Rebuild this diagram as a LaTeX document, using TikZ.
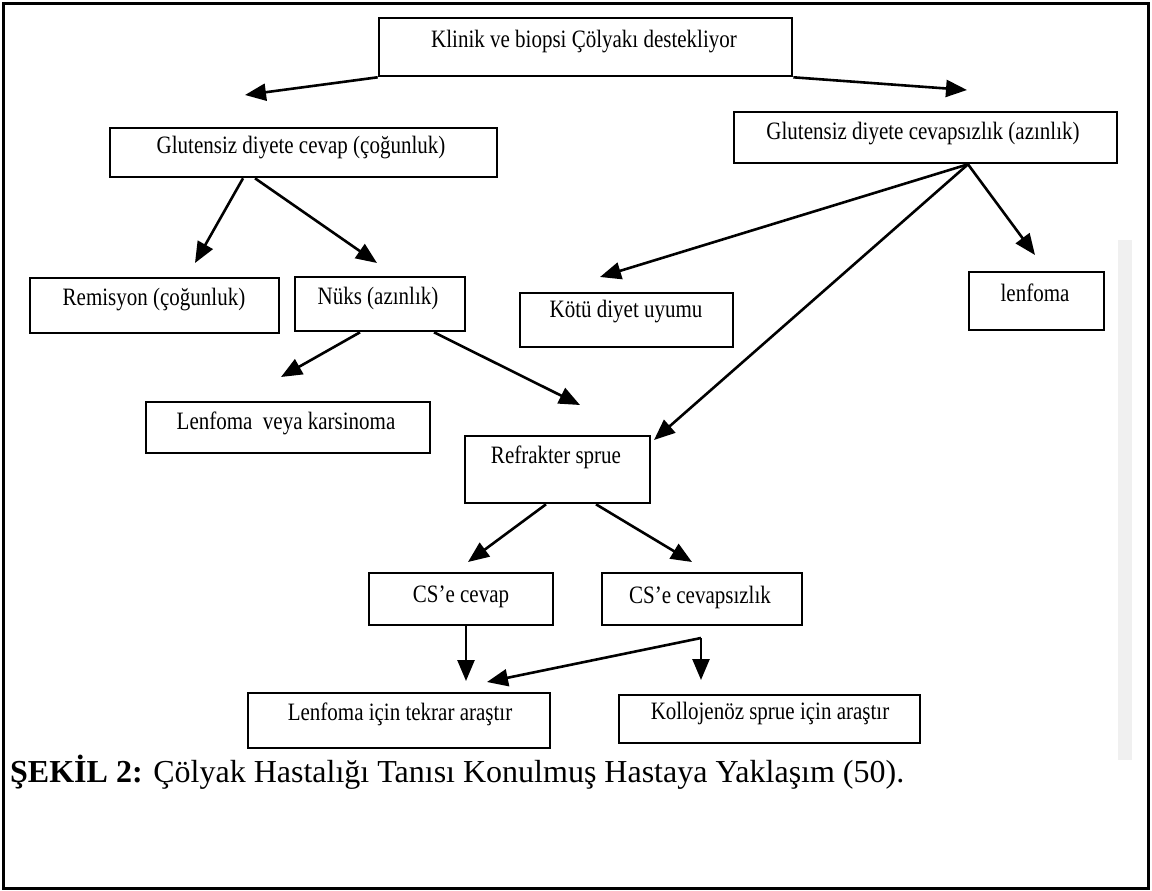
\documentclass[tikz,border=0pt]{standalone}
\usepackage{fontspec}
\setmainfont{Liberation Serif}
\newfontfamily\dfont[FakeStretch=0.84]{Liberation Serif}
\usetikzlibrary{arrows.meta}
\begin{document}
\begin{tikzpicture}[x=1pt,y=-1pt,
  box/.style={draw, line width=2.6pt, inner sep=0pt, rectangle},
  lbl/.style={font=\dfont\fontsize{25}{29}\selectfont, inner sep=0pt},
  arr/.style={line width=2.6pt, -{Triangle[length=21pt,width=17pt]}},
  capt/.style={font=\fontsize{32}{36}\selectfont, inner sep=0pt, anchor=base west}
]
\useasboundingbox (0,0) rectangle (1152,891);
\fill[white] (0,0) rectangle (1152,891);
\fill[black!6] (1118,240) rectangle (1132,760);
\draw[line width=3pt] (3,4) rectangle (1148,888);

% boxes
\node[box, minimum width=413pt, minimum height=58pt] (top) at (585.5,47) {};
\node[lbl] (topt) at (584,42) {Klinik ve biopsi Çölyakı destekliyor};
\node[box, minimum width=387pt, minimum height=49pt] (g1) at (303.5,152.5) {};
\node[lbl] (g1t) at (301,148) {Glutensiz diyete cevap (çoğunluk)};
\node[box, minimum width=383pt, minimum height=51pt] (g2) at (925.5,137.5) {};
\node[lbl] (g2t) at (923,134) {Glutensiz diyete cevapsızlık (azınlık)};
\node[box, minimum width=249pt, minimum height=55pt] (rem) at (154.5,305.5) {};
\node[lbl] (remt) at (154,300) {Remisyon (çoğunluk)};
\node[box, minimum width=170pt, minimum height=54pt] (nuks) at (380,304) {};
\node[lbl] (nukst) at (378,298) {Nüks (azınlık)};
\node[box, minimum width=213pt, minimum height=54pt] (kotu) at (626.5,320) {};
\node[lbl] (kotut) at (626,312) {Kötü diyet uyumu};
\node[box, minimum width=135pt, minimum height=58pt] (lenf) at (1036.5,301) {};
\node[lbl] (lenft) at (1035,293) {lenfoma};
\node[box, minimum width=284pt, minimum height=51pt] (lvk) at (288,427.5) {};
\node[lbl] (lvkt) at (286,423) {Lenfoma\ \ veya karsinoma};
\node[box, minimum width=185pt, minimum height=67pt] (ref) at (557.5,469.5) {};
\node[lbl] (reft) at (556,457) {Refrakter sprue};
\node[box, minimum width=184pt, minimum height=52pt] (cs1) at (461,599) {};
\node[lbl] (cs1t) at (461,597) {CS’e cevap};
\node[box, minimum width=200pt, minimum height=52pt] (cs2) at (702,599) {};
\node[lbl] (cs2t) at (700,597) {CS’e cevapsızlık};
\node[box, minimum width=302pt, minimum height=55pt] (lt) at (399,720.5) {};
\node[lbl] (ltt) at (400,714) {Lenfoma için tekrar araştır};
\node[box, minimum width=301pt, minimum height=48pt] (ks) at (769.5,719) {};
\node[lbl] (kst) at (770,713) {Kollojenöz sprue için araştır};

% arrow tips and junction
\coordinate (tG1) at (245,95);
\coordinate (tG2) at (967,90);
\coordinate (tRem) at (195,263);
\coordinate (tNuks) at (377,263);
\coordinate (tKotu) at (600,277);
\coordinate (tRef2) at (654,440);
\coordinate (tLenf) at (1035,255);
\coordinate (tLvk) at (281,377);
\coordinate (tRef1) at (580,405);
\coordinate (tCs1) at (468,562);
\coordinate (tCs2) at (692,562);
\coordinate (tLt1) at (466,681);
\coordinate (jn) at (701,638);
\coordinate (tLt2) at (487,682);
\coordinate (tKs) at (701,680);

% connectors
\draw[arr] (top.south west) -- (tG1);
\draw[arr] (top.south east) -- (tG2);
\draw[arr] ([xshift=-60.5pt]g1.south) -- (tRem);
\draw[arr] ([xshift=-48.5pt]g1.south) -- (tNuks);
\draw[arr] ([xshift=42.5pt]g2.south) -- (tKotu);
\draw[arr] ([xshift=42.5pt]g2.south) -- (tRef2);
\draw[arr] ([xshift=42.5pt]g2.south) -- (tLenf);
\draw[arr] ([xshift=-20pt]nuks.south) -- (tLvk);
\draw[arr] ([xshift=54pt]nuks.south) -- (tRef1);
\draw[arr] ([xshift=-11.5pt]ref.south) -- (tCs1);
\draw[arr] ([xshift=38.5pt]ref.south) -- (tCs2);
\draw[arr] ([xshift=5pt]cs1.south) -- (tLt1);
\draw[arr] (jn) -- (tLt2);
\draw[arr] (jn) -- (tKs);

% caption
\node[capt] (cap) at (10,782) {\textbf{ŞEKİL 2:} Çölyak Hastalığı Tanısı Konulmuş Hastaya Yaklaşım (50).};
\end{tikzpicture}
\end{document}
